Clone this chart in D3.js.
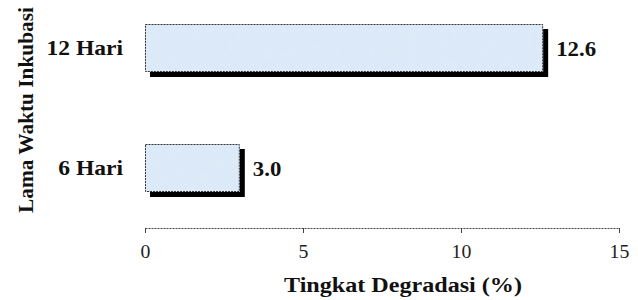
<!DOCTYPE html>
<html><head><meta charset="utf-8">
<script src="https://cdn.jsdelivr.net/npm/d3@7"></script>
<style>body{margin:0;background:#fff}svg{display:block}</style>
</head><body>
<svg id="c" width="638" height="300"></svg>
<script>
const categories = ["6 Hari", "12 Hari"];
const values = [3.0, 12.6];
const xTicks = [0, 5, 10, 15];
const xTitle = "Tingkat Degradasi (%)";
const yTitle = "Lama Waktu Inkubasi";

const FONT = '"Liberation Serif", "Times New Roman", serif';
const svg = d3.select("#c");
const x = d3.scaleLinear().domain([0, 15]).range([145, 619]);
const y = d3.scaleBand().domain(categories).range([228, -12]).paddingInner(0.6).paddingOuter(0.3);

function stretch(sel, k) {
  sel.each(function() {
    const w = this.getComputedTextLength();
    d3.select(this).attr("textLength", w * k).attr("lengthAdjust", "spacingAndGlyphs");
  });
}

const defs = svg.append("defs");
const f = defs.append("filter").attr("id","tex").attr("x",0).attr("y",0).attr("width",1).attr("height",1);
f.append("feTurbulence").attr("type","fractalNoise").attr("baseFrequency",0.12).attr("numOctaves",3).attr("seed",5).attr("result","n");
f.append("feColorMatrix").attr("in","n").attr("type","matrix")
 .attr("values","0 0 0 0 0.74  0 0 0 0 0.83  0 0 0 0 0.93  0 0 0 -1.6 1.05").attr("result","c");
f.append("feFlood").attr("flood-color","#dbe9f9").attr("result","bg");
f.append("feComposite").attr("in","c").attr("in2","bg").attr("operator","over").attr("result","m");
f.append("feComposite").attr("in","m").attr("in2","SourceGraphic").attr("operator","in");

const data = categories.map((c,i)=>({c, v: values[i]}));
const g = svg.append("g");
g.selectAll("rect.sh").data(data).join("rect").attr("class","sh")
 .attr("x", x(0)+5).attr("y", d=>y(d.c)+5)
 .attr("width", d=>x(d.v)-x(0)).attr("height", y.bandwidth())
 .attr("fill","#000");
g.selectAll("rect.bar").data(data).join("rect").attr("class","bar")
 .attr("x", x(0)).attr("y", d=>y(d.c))
 .attr("width", d=>x(d.v)-x(0)).attr("height", y.bandwidth())
 .attr("fill","#d8e7f8").attr("filter","url(#tex)");
g.selectAll("rect.bd").data(data).join("rect").attr("class","bd")
 .attr("x", x(0)+0.5).attr("y", d=>y(d.c)+0.5)
 .attr("width", d=>x(d.v)-x(0)-1).attr("height", y.bandwidth()-1)
 .attr("fill","none").attr("stroke","#333").attr("stroke-width",1).attr("stroke-dasharray","2,1");

const vals = g.selectAll("text.val").data(data).join("text").attr("class","val")
 .attr("x", d=>x(d.v)+13).attr("y", d=>y(d.c)+y.bandwidth()/2+7.5)
 .style("font-family",FONT).attr("font-weight","bold").attr("font-size",20).attr("fill","#111")
 .text(d=>d.v.toFixed(1));
stretch(vals, 1.14);

const cats = g.selectAll("text.cat").data(data).join("text").attr("class","cat")
 .attr("x", 123).attr("y", d=>y(d.c)+y.bandwidth()/2+7)
 .attr("text-anchor","end")
 .style("font-family",FONT).attr("font-weight","bold").attr("font-size",21).attr("fill","#111")
 .text(d=>d.c);
stretch(cats, 1.12);

const ax = svg.append("g").attr("transform","translate(0,228)")
 .call(d3.axisBottom(x).tickValues(xTicks).tickSize(5).tickSizeOuter(0).tickFormat(d3.format("d")));
ax.select(".domain").attr("stroke","#444").attr("stroke-dasharray","2,1");
ax.selectAll(".tick line").attr("stroke","#444");
const tt = ax.selectAll(".tick text").attr("y",30).attr("dy",null)
 .style("font-family",FONT).attr("font-size",18).attr("fill","#222");
stretch(tt, 1.1);

svg.append("text").attr("x",403).attr("y",292).attr("text-anchor","middle")
 .style("font-family",FONT).attr("font-weight","bold").attr("font-size",20).attr("fill","#111")
 .attr("textLength",238).attr("lengthAdjust","spacingAndGlyphs").text(xTitle);
svg.append("text").attr("transform","translate(33,110) rotate(-90)").attr("text-anchor","middle")
 .style("font-family",FONT).attr("font-weight","bold").attr("font-size",20).attr("fill","#111")
 .attr("textLength",206).attr("lengthAdjust","spacingAndGlyphs").text(yTitle);
</script>
</body></html>
